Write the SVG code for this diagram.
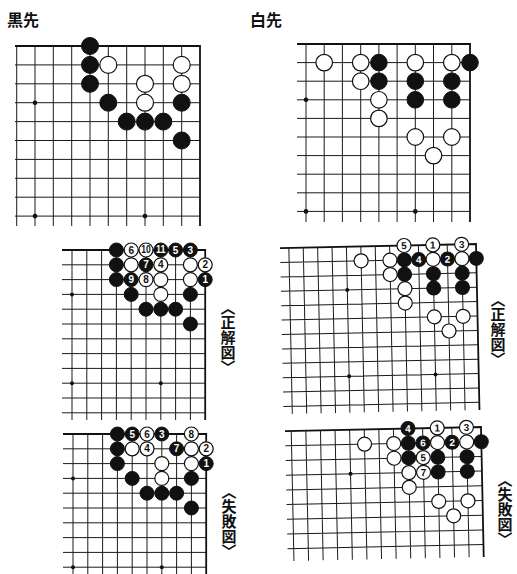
<svg xmlns="http://www.w3.org/2000/svg" width="517" height="574" viewBox="0 0 517 574">
<style>
.g{stroke:#1a1a1a;stroke-width:1;fill:none}
.e{stroke:#111;stroke-width:1.8;fill:none}
.b{fill:#111;stroke:#111;stroke-width:1}
.w{fill:#fff;stroke:#111;stroke-width:1.2}
.s{fill:#111}
.nb{fill:#fff;font-family:"Liberation Sans",Arial,sans-serif;font-weight:bold;font-size:10px;text-anchor:middle}
.nw{fill:#111;font-family:"Liberation Sans",Arial,sans-serif;font-weight:bold;font-size:10px;text-anchor:middle}
.t{font-family:"Noto Sans CJK JP",sans-serif;font-weight:bold;font-size:16px;fill:#111}
.l{font-family:"Noto Sans CJK JP",sans-serif;font-weight:bold;font-size:15px;fill:#111;writing-mode:vertical-rl}
</style>
<rect width="517" height="574" fill="#fff"/>
<text class="t" x="7" y="26">黒先</text>
<text class="t" x="250" y="26">白先</text>

<g id="board1">
<path class="g" d="M15 64.9H200M15 83.8H200M15 102.7H200M15 121.6H200M15 140.5H200M15 159.4H200M15 178.3H200M15 197.2H200M15 216.1H200M16.7 46V226M35 46V226M53.3 46V226M71.7 46V226M90 46V226M108.3 46V226M126.7 46V226M145 46V226M163.3 46V226M181.7 46V226"/>
<path class="e" d="M15 46H200V226"/>
<circle class="s" cx="35" cy="102.7" r="2.3"/><circle class="s" cx="35" cy="216.1" r="2.3"/><circle class="s" cx="145" cy="216.1" r="2.3"/>
<circle class="b" cx="90" cy="46" r="8.5"/><circle class="b" cx="90" cy="64.9" r="8.5"/><circle class="b" cx="90" cy="83.8" r="8.5"/>
<circle class="b" cx="108.3" cy="102.7" r="8.5"/><circle class="b" cx="126.7" cy="121.6" r="8.5"/><circle class="b" cx="145" cy="121.6" r="8.5"/><circle class="b" cx="163.3" cy="121.6" r="8.5"/>
<circle class="b" cx="181.7" cy="102.7" r="8.5"/><circle class="b" cx="181.7" cy="140.5" r="8.5"/>
<circle class="w" cx="108.3" cy="64.9" r="8.5"/><circle class="w" cx="145" cy="83.8" r="8.5"/><circle class="w" cx="145" cy="102.7" r="8.5"/>
<circle class="w" cx="181.7" cy="64.9" r="8.5"/><circle class="w" cx="181.7" cy="83.8" r="8.5"/>
</g>

<g id="board2">
<path class="g" d="M297 62.6H470M297 81.2H470M297 99.8H470M297 118.4H470M297 137H470M297 155.6H470M297 174.2H470M297 192.8H470M297 211.4H470M306 44V222M324.2 44V222M342.4 44V222M360.7 44V222M378.9 44V222M397.1 44V222M415.3 44V222M433.5 44V222M451.8 44V222"/>
<path class="e" d="M297 44H470V222"/>
<circle class="s" cx="306" cy="99.8" r="2.3"/><circle class="s" cx="306" cy="211.4" r="2.3"/><circle class="s" cx="415.3" cy="211.4" r="2.3"/>
<circle class="w" cx="324.2" cy="62.6" r="8.3"/><circle class="w" cx="360.7" cy="62.6" r="8.3"/><circle class="w" cx="360.7" cy="81.2" r="8.3"/>
<circle class="w" cx="378.9" cy="99.8" r="8.3"/><circle class="w" cx="378.9" cy="118.4" r="8.3"/>
<circle class="w" cx="415.3" cy="62.6" r="8.3"/><circle class="w" cx="451.8" cy="62.6" r="8.3"/>
<circle class="w" cx="415.3" cy="137" r="8.3"/><circle class="w" cx="451.8" cy="137" r="8.3"/><circle class="w" cx="433.5" cy="155.6" r="8.3"/>
<circle class="b" cx="378.9" cy="62.6" r="8.3"/><circle class="b" cx="378.9" cy="81.2" r="8.3"/>
<circle class="b" cx="415.3" cy="81.2" r="8.3"/><circle class="b" cx="415.3" cy="99.8" r="8.3"/>
<circle class="b" cx="451.8" cy="81.2" r="8.3"/><circle class="b" cx="451.8" cy="99.8" r="8.3"/><circle class="b" cx="470" cy="62.6" r="8.3"/>
</g>

<g id="board3">
<path class="g" d="M62 264.8H205.2M62 279.6H205.2M62 294.4H205.2M62 309.2H205.2M62 324H205.2M62 338.8H205.2M62 353.6H205.2M62 368.4H205.2M62 383.2H205.2M62 398H205.2M62 412.8H205.2M72 250V420M86.8 250V420M101.6 250V420M116.4 250V420M131.2 250V420M146 250V420M160.8 250V420M175.6 250V420M190.4 250V420"/>
<path class="e" d="M62 250H205.2V420"/>
<circle class="s" cx="72" cy="294.4" r="2"/><circle class="s" cx="72" cy="383.2" r="2"/><circle class="s" cx="160.8" cy="383.2" r="2"/>
<circle class="b" cx="116.4" cy="250" r="7"/><circle class="b" cx="116.4" cy="264.8" r="7"/><circle class="b" cx="116.4" cy="279.6" r="7"/>
<circle class="b" cx="131.2" cy="294.4" r="7"/><circle class="b" cx="190.4" cy="294.4" r="7"/>
<circle class="b" cx="146" cy="309.2" r="7"/><circle class="b" cx="160.8" cy="309.2" r="7"/><circle class="b" cx="175.6" cy="309.2" r="7"/><circle class="b" cx="190.4" cy="324" r="7"/>
<circle class="w" cx="131.2" cy="264.8" r="7"/><circle class="w" cx="190.4" cy="264.8" r="7"/><circle class="w" cx="160.8" cy="279.6" r="7"/><circle class="w" cx="190.4" cy="279.6" r="7"/><circle class="w" cx="160.8" cy="294.4" r="7"/>
<circle class="w" cx="131.2" cy="250" r="7"/><text class="nw" x="131.2" y="253.6">6</text>
<circle class="w" cx="146" cy="250" r="7"/><text class="nw" x="146" y="253.2" font-size="8.5" textLength="9.5" lengthAdjust="spacingAndGlyphs">10</text>
<circle class="b" cx="160.8" cy="250" r="7"/><text class="nb" x="160.8" y="253.2" font-size="8.5" textLength="9.5" lengthAdjust="spacingAndGlyphs">11</text>
<circle class="b" cx="175.6" cy="250" r="7"/><text class="nb" x="175.6" y="253.6">5</text>
<circle class="b" cx="190.4" cy="250" r="7"/><text class="nb" x="190.4" y="253.6">3</text>
<circle class="b" cx="146" cy="264.8" r="7"/><text class="nb" x="146" y="268.4">7</text>
<circle class="w" cx="160.8" cy="264.8" r="7"/><text class="nw" x="160.8" y="268.4">4</text>
<circle class="w" cx="205.2" cy="264.8" r="7"/><text class="nw" x="205.2" y="268.4">2</text>
<circle class="b" cx="131.2" cy="279.6" r="7"/><text class="nb" x="131.2" y="283.2">9</text>
<circle class="w" cx="146" cy="279.6" r="7"/><text class="nw" x="146" y="283.2">8</text>
<circle class="b" cx="205.2" cy="279.6" r="7"/><text class="nb" x="205.2" y="283.2">1</text>
<text class="l" x="228" y="300">〈正解図〉</text>
</g>

<g id="board4">
<g transform="rotate(-1.2 476 244)">
<path class="g" d="M280 258.4H476M280 272.8H476M280 287.2H476M280 301.6H476M280 316H476M280 330.4H476M280 344.8H476M280 359.2H476M280 373.6H476M280 388H476M280 402.4H476M288.8 244V410M303.2 244V410M317.6 244V410M332 244V410M346.4 244V410M360.8 244V410M375.2 244V410M389.6 244V410M404 244V410M418.4 244V410M432.8 244V410M447.2 244V410M461.6 244V410"/>
<path class="e" d="M280 244H476V410"/>
<circle class="s" cx="346.4" cy="287.2" r="2"/><circle class="s" cx="346.4" cy="373.6" r="2"/><circle class="s" cx="432.8" cy="373.6" r="2"/>
<circle class="w" cx="360.8" cy="258.4" r="7"/><circle class="w" cx="389.6" cy="258.4" r="7"/><circle class="w" cx="432.8" cy="258.4" r="7"/><circle class="w" cx="461.6" cy="258.4" r="7"/>
<circle class="w" cx="389.6" cy="272.8" r="7"/><circle class="w" cx="404" cy="287.2" r="7"/><circle class="w" cx="404" cy="301.6" r="7"/>
<circle class="w" cx="432.8" cy="316" r="7"/><circle class="w" cx="461.6" cy="316" r="7"/><circle class="w" cx="447.2" cy="330.4" r="7"/>
<circle class="b" cx="404" cy="258.4" r="7"/><circle class="b" cx="476" cy="258.4" r="7"/>
<circle class="b" cx="404" cy="272.8" r="7"/><circle class="b" cx="432.8" cy="272.8" r="7"/><circle class="b" cx="461.6" cy="272.8" r="7"/>
<circle class="b" cx="432.8" cy="287.2" r="7"/><circle class="b" cx="461.6" cy="287.2" r="7"/>
<circle class="w" cx="404" cy="244" r="7"/><text class="nw" x="404" y="247.6">5</text>
<circle class="w" cx="432.8" cy="244" r="7"/><text class="nw" x="432.8" y="247.6">1</text>
<circle class="w" cx="461.6" cy="244" r="7"/><text class="nw" x="461.6" y="247.6">3</text>
<circle class="b" cx="418.4" cy="258.4" r="7"/><text class="nb" x="418.4" y="262">4</text>
<circle class="b" cx="447.2" cy="258.4" r="7"/><text class="nb" x="447.2" y="262">2</text>
</g>
<text class="l" x="498" y="292" font-size="14.5">〈正解図〉</text>
</g>

<g id="board5">
<path class="g" d="M63 448.8H206.2M63 463.6H206.2M63 478.4H206.2M63 493.2H206.2M63 508H206.2M63 522.8H206.2M63 537.6H206.2M63 552.4H206.2M63 567.2H206.2M73 434V574M87.8 434V574M102.6 434V574M117.4 434V574M132.2 434V574M147 434V574M161.8 434V574M176.6 434V574M191.4 434V574"/>
<path class="e" d="M63 434H206.2V574"/>
<circle class="s" cx="73" cy="478.4" r="2"/><circle class="s" cx="73" cy="567.2" r="2"/><circle class="s" cx="161.8" cy="567.2" r="2"/>
<circle class="b" cx="117.4" cy="434" r="7"/><circle class="b" cx="117.4" cy="448.8" r="7"/><circle class="b" cx="117.4" cy="463.6" r="7"/>
<circle class="b" cx="132.2" cy="478.4" r="7"/><circle class="b" cx="191.4" cy="478.4" r="7"/>
<circle class="b" cx="147" cy="493.2" r="7"/><circle class="b" cx="161.8" cy="493.2" r="7"/><circle class="b" cx="176.6" cy="493.2" r="7"/><circle class="b" cx="191.4" cy="508" r="7"/>
<circle class="w" cx="132.2" cy="448.8" r="7"/><circle class="w" cx="191.4" cy="448.8" r="7"/><circle class="w" cx="161.8" cy="463.6" r="7"/><circle class="w" cx="191.4" cy="463.6" r="7"/><circle class="w" cx="161.8" cy="478.4" r="7"/>
<circle class="b" cx="132.2" cy="434" r="7"/><text class="nb" x="132.2" y="437.6">5</text>
<circle class="w" cx="147" cy="434" r="7"/><text class="nw" x="147" y="437.6">6</text>
<circle class="b" cx="161.8" cy="434" r="7"/><text class="nb" x="161.8" y="437.6">3</text>
<circle class="w" cx="191.4" cy="434" r="7"/><text class="nw" x="191.4" y="437.6">8</text>
<circle class="w" cx="147" cy="448.8" r="7"/><text class="nw" x="147" y="452.4">4</text>
<circle class="b" cx="176.6" cy="448.8" r="7"/><text class="nb" x="176.6" y="452.4">7</text>
<circle class="w" cx="206.2" cy="448.8" r="7"/><text class="nw" x="206.2" y="452.4">2</text>
<circle class="b" cx="206.2" cy="463.6" r="7"/><text class="nb" x="206.2" y="467.2">1</text>
<text class="l" x="229" y="484">〈失敗図〉</text>
</g>

<g id="board6">
<g transform="rotate(-1.2 481 427)">
<path class="g" d="M285 441.7H481M285 456.4H481M285 471.1H481M285 485.8H481M285 500.5H481M285 515.2H481M285 529.9H481M285 544.6H481M291.2 427V557M305.8 427V557M320.4 427V557M335 427V557M349.6 427V557M364.2 427V557M378.8 427V557M393.4 427V557M408 427V557M422.6 427V557M437.2 427V557M451.8 427V557M466.4 427V557"/>
<path class="e" d="M285 427H481V557"/>
<circle class="s" cx="349.6" cy="471.1" r="2"/>
<circle class="w" cx="364.2" cy="441.7" r="7"/><circle class="w" cx="393.4" cy="441.7" r="7"/><circle class="w" cx="437.2" cy="441.7" r="7"/><circle class="w" cx="466.4" cy="441.7" r="7"/>
<circle class="w" cx="393.4" cy="456.4" r="7"/><circle class="w" cx="408" cy="471.1" r="7"/><circle class="w" cx="408" cy="485.8" r="7"/>
<circle class="w" cx="437.2" cy="500.5" r="7"/><circle class="w" cx="466.4" cy="500.5" r="7"/><circle class="w" cx="451.8" cy="515.2" r="7"/>
<circle class="b" cx="408" cy="441.7" r="7"/><circle class="b" cx="481" cy="441.7" r="7"/>
<circle class="b" cx="408" cy="456.4" r="7"/><circle class="b" cx="437.2" cy="456.4" r="7"/><circle class="b" cx="466.4" cy="456.4" r="7"/>
<circle class="b" cx="437.2" cy="471.1" r="7"/><circle class="b" cx="466.4" cy="471.1" r="7"/>
<circle class="b" cx="408" cy="427" r="7"/><text class="nb" x="408" y="430.6">4</text>
<circle class="w" cx="437.2" cy="427" r="7"/><text class="nw" x="437.2" y="430.6">1</text>
<circle class="w" cx="466.4" cy="427" r="7"/><text class="nw" x="466.4" y="430.6">3</text>
<circle class="b" cx="422.6" cy="441.7" r="7"/><text class="nb" x="422.6" y="445.3">6</text>
<circle class="b" cx="451.8" cy="441.7" r="7"/><text class="nb" x="451.8" y="445.3">2</text>
<circle class="w" cx="422.6" cy="456.4" r="7"/><text class="nw" x="422.6" y="460">5</text>
<circle class="w" cx="422.6" cy="471.1" r="7"/><text class="nw" x="422.6" y="474.7">7</text>
</g>
<text class="l" x="505" y="472" font-size="14.5">〈失敗図〉</text>
</g>
</svg>
